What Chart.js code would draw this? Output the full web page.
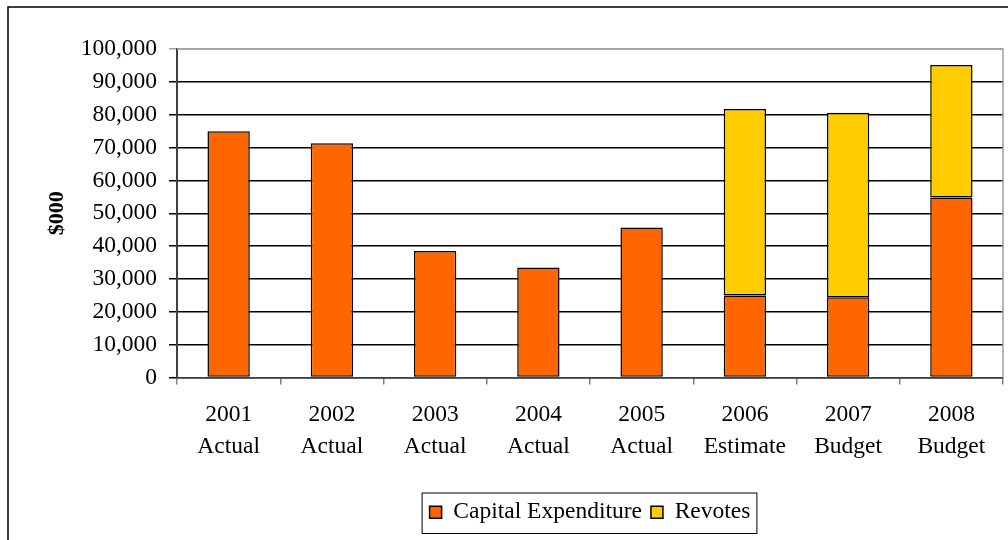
<!DOCTYPE html>
<html>
<head>
<meta charset="utf-8">
<script src="https://cdn.jsdelivr.net/npm/chart.js@4/dist/chart.umd.min.js"></script>
<style>
    html, body { margin: 0; padding: 0; background: #fff; }
    canvas { display: block; }
</style>
</head>
<body>
<canvas id="capex-chart" width="1008" height="540"></canvas>
<script>
// Dane wykresu
const years = ['2001', '2002', '2003', '2004', '2005', '2006', '2007', '2008'];
const stages = ['Actual', 'Actual', 'Actual', 'Actual', 'Actual', 'Estimate', 'Budget', 'Budget'];
const capitalExpenditure = [75000, 71300, 38500, 33500, 45700, 25000, 24400, 54800];
const revotes = [0, 0, 0, 0, 0, 56700, 56200, 40300];
const yTicks = [0, 10000, 20000, 30000, 40000, 50000, 60000, 70000, 80000, 90000, 100000];

const serif = 'Liberation Serif';
const fontSize = 23.5;

// Ramka wykresu (lewa i górna krawędź) oraz obramowanie obszaru wykresu
const framePlugin = {
    id: 'frame',
    beforeDraw(chart) {
        const ctx = chart.ctx;
        ctx.save();
        ctx.fillStyle = '#fff';
        ctx.fillRect(0, 0, chart.width, chart.height);
        ctx.strokeStyle = '#000';
        ctx.lineWidth = 1.5;
        ctx.beginPath();
        ctx.moveTo(8, chart.height);
        ctx.lineTo(8, 7);
        ctx.lineTo(chart.width, 7);
        ctx.stroke();
        ctx.restore();
    },
    afterDraw(chart) {
        const ctx = chart.ctx;
        const a = chart.chartArea;
        ctx.save();
        ctx.strokeStyle = '#a0a0a0';
        ctx.lineWidth = 1.5;
        ctx.beginPath();
        ctx.moveTo(a.left, a.top);
        ctx.lineTo(a.right, a.top);
        ctx.lineTo(a.right, a.bottom);
        ctx.stroke();

        // Ramka legendy
        const boxes = chart.legend.legendHitBoxes;
        if (boxes && boxes.length) {
            const left = Math.min(...boxes.map(b => b.left)) - 8;
            const right = Math.max(...boxes.map(b => b.left + b.width)) + 6;
            const top = Math.min(...boxes.map(b => b.top)) - 8;
            const bottom = Math.max(...boxes.map(b => b.top + b.height)) + 9;
            ctx.strokeStyle = '#000';
            ctx.lineWidth = 1;
            ctx.strokeRect(left + 0.5, top + 0.5, right - left, bottom - top);
        }
        ctx.restore();
    }
};

new Chart(document.getElementById('capex-chart'), {
    type: 'bar',
    data: {
        labels: years.map((y, i) => [y, stages[i]]),
        datasets: [{
            label: 'Capital Expenditure',
            data: capitalExpenditure,
            backgroundColor: '#FF6600',
            borderColor: '#000',
            borderWidth: 1.5,
            borderSkipped: false
        }, {
            label: 'Revotes',
            data: revotes,
            backgroundColor: '#FFCC00',
            borderColor: '#000',
            borderWidth: 1.5,
            borderSkipped: false
        }]
    },
    options: {
        responsive: false,
        animation: false,
        datasets: {
            bar: { categoryPercentage: 1, barPercentage: 0.41 }
        },
        layout: {
            padding: { left: 44, top: 49, right: 5, bottom: 6 }
        },
        scales: {
            x: {
                stacked: true,
                grid: {
                    offset: true,
                    drawOnChartArea: false,
                    drawTicks: true,
                    tickLength: 7,
                    color: '#808080',
                    lineWidth: 1.5
                },
                border: { color: '#404040', width: 1.5 },
                ticks: {
                    color: '#000',
                    padding: 14,
                    maxRotation: 0,
                    font: { family: serif, size: fontSize, lineHeight: 32 / fontSize }
                },
                afterFit(scale) { scale.height = 114; }
            },
            y: {
                stacked: true,
                min: 0,
                max: 100000,
                afterBuildTicks(scale) {
                    scale.ticks = yTicks.map(v => ({ value: v }));
                },
                grid: {
                    color: ctx => (ctx.tick && ctx.tick.value === 100000) ? '#a0a0a0' : '#000',
                    lineWidth: 1.5,
                    tickLength: 8
                },
                border: { color: '#404040', width: 2 },
                ticks: {
                    color: '#000',
                    padding: 12,
                    font: { family: serif, size: fontSize },
                    callback: v => v.toLocaleString('en-US')
                },
                title: {
                    display: true,
                    text: '$000',
                    color: '#000',
                    padding: 0,
                    font: { family: serif, size: 22, weight: 'bold' }
                },
                afterFit(scale) { scale.width = 133; }
            }
        },
        plugins: {
            legend: {
                position: 'bottom',
                fullSize: false,
                labels: {
                    color: '#000',
                    boxWidth: 12,
                    boxHeight: 12,
                    padding: 9,
                    font: { family: serif, size: fontSize }
                }
            },
            tooltip: { enabled: false }
        }
    },
    plugins: [framePlugin]
});
</script>
</body>
</html>
